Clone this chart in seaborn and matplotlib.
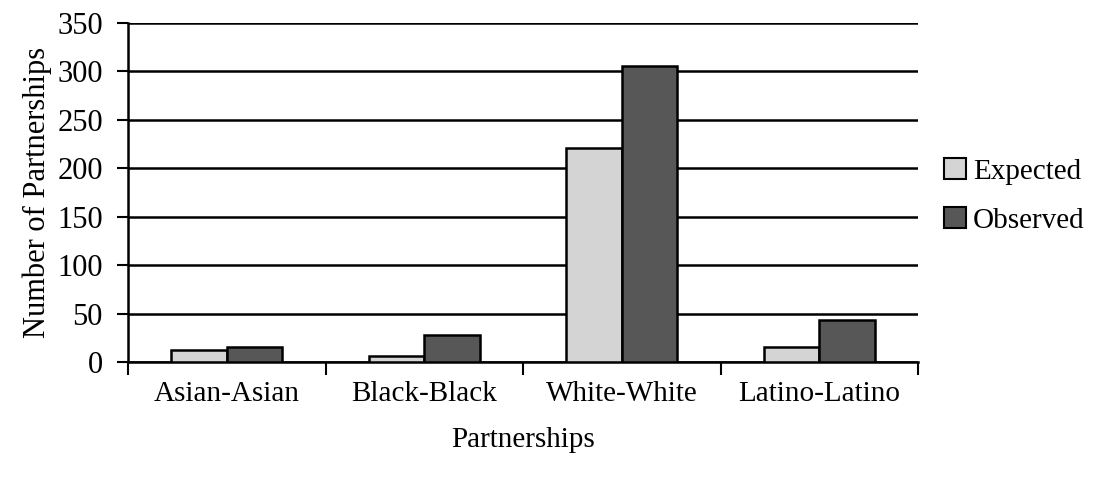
import matplotlib
matplotlib.use("Agg")
import matplotlib.pyplot as plt
import seaborn as sns
import pandas as pd
from matplotlib.ticker import FixedLocator

categories = ["Asian-Asian", "Black-Black", "White-White", "Latino-Latino"]
expected = [12, 6, 221, 15]
observed = [15, 28, 306, 43]
series_names = ["Expected", "Observed"]
y_ticks = [0, 50, 100, 150, 200, 250, 300, 350]

df = pd.DataFrame({
    "Partnerships": categories * 2,
    "Count": expected + observed,
    "Series": [series_names[0]] * len(categories) + [series_names[1]] * len(categories),
})

sns.set_theme(style="white")
plt.rcParams["font.family"] = ["Liberation Serif", "DejaVu Serif"]
plt.rcParams.update({
    "text.color": "black",
    "axes.labelcolor": "black",
    "xtick.color": "black",
    "ytick.color": "black",
})

fig = plt.figure(figsize=(10.97, 4.79), dpi=100)
ax = fig.add_axes([128 / 1097, 1 - 362 / 479, 790 / 1097, 339 / 479])

palette = {"Expected": "#d4d4d4", "Observed": "#575757"}
sns.barplot(data=df, x="Partnerships", y="Count", hue="Series", order=categories,
            hue_order=series_names, palette=palette, width=0.56, edgecolor="black",
            linewidth=1.8, saturation=1, ax=ax, zorder=3)

ax.set_ylim(0, 350)
ax.set_xlim(-0.5, len(categories) - 0.5)
ax.set_yticks(y_ticks)
ax.yaxis.grid(True, color="black", linewidth=1.8)
ax.set_axisbelow(True)

for side in ["top", "right"]:
    ax.spines[side].set_visible(False)
for side in ["left", "bottom"]:
    ax.spines[side].set_color("black")
    ax.spines[side].set_linewidth(1.8)

ax.tick_params(axis="y", which="major", direction="out", length=8, width=1.5,
               labelsize=22, pad=10, left=True)
ax.tick_params(axis="x", which="major", length=0, labelsize=21, pad=14)
ax.xaxis.set_minor_locator(FixedLocator([i - 0.5 for i in range(len(categories) + 1)]))
ax.tick_params(axis="x", which="minor", direction="out", length=9, width=1.5,
               bottom=True)

ax.set_xlabel("Partnerships", fontsize=21, labelpad=14)
ax.set_ylabel("Number of Partnerships", fontsize=22, labelpad=4)

leg = ax.legend(loc="center left", bbox_to_anchor=(1.018, 0.49), frameon=False,
                fontsize=21, handlelength=0.75, handleheight=0.75, handletextpad=0.25,
                labelspacing=0.75, borderaxespad=0)
for h in leg.legend_handles:
    h.set_edgecolor("black")
    h.set_linewidth(1.5)

fig.savefig("out.png", dpi=100)
